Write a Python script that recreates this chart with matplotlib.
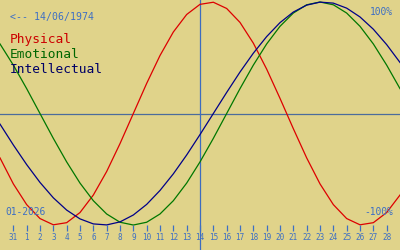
import matplotlib
matplotlib.use("Agg")
import matplotlib.pyplot as plt

# day of month (0 = 31 Dec) (-1..1)
days = list(range(-1, 30))
physical = [-0.398, -0.631, -0.817, -0.942, -0.998, -0.979, -0.888, -0.731, -0.520, -0.270,
            0.0, 0.270, 0.520, 0.731, 0.888, 0.979, 0.998, 0.942, 0.817, 0.631,
            0.398, 0.136, -0.136, -0.398, -0.631, -0.817, -0.942, -0.998, -0.979, -0.888, -0.731]
emotional = [0.624, 0.434, 0.223, 0.0, -0.223, -0.434, -0.624, -0.782, -0.901, -0.975,
             -1.0, -0.975, -0.901, -0.782, -0.624, -0.434, -0.223, 0.0, 0.223, 0.434,
             0.624, 0.782, 0.901, 0.975, 1.0, 0.975, 0.901, 0.782, 0.624, 0.434, 0.223]
intellectual = [-0.095, -0.282, -0.458, -0.618, -0.756, -0.866, -0.945, -0.990, -0.999, -0.972,
                -0.910, -0.815, -0.690, -0.541, -0.372, -0.189, 0.0, 0.189, 0.372, 0.541,
                0.690, 0.815, 0.910, 0.972, 0.999, 0.990, 0.945, 0.866, 0.756, 0.618, 0.458]
tick_pos = list(range(0, 29))
tick_labels = ["31"] + [str(i) for i in range(1, 29)]
today = 14

bg = "#e0d38a"
blue_txt = "#3d6fc4"
mono = "DejaVu Sans Mono"

fig = plt.figure(figsize=(4, 2.5), dpi=100, facecolor=bg)
ax = fig.add_axes([0, 0, 1, 1])
ax.set_facecolor(bg)
ax.set_xlim(-1, 29)
ax.set_ylim(-1.224, 1.018)
ax.axis("off")

ax.axhline(0, color="#4b6c9c", lw=0.9)
ax.axvline(today, color="#3c6cc0", lw=0.9)

ax.plot(days, physical, color="#dd0000", lw=0.9)
ax.plot(days, emotional, color="#007700", lw=0.9)
ax.plot(days, intellectual, color="#000088", lw=0.9)

# day ticks along the bottom
tr = ax.get_xaxis_transform()
ax.vlines(tick_pos, 0.076, 0.1, transform=tr, color=blue_txt, lw=0.9)
for p, lab in zip(tick_pos, tick_labels):
    ax.text(p, 0.048, lab, transform=tr, ha="center", va="center",
            fontsize=5.5, family=mono, color=blue_txt)

def px(x, y):
    return x / 400, 1 - y / 250

fig.text(*px(10, 17), "<-- 14/06/1974", fontsize=7.1, family=mono,
         color=blue_txt, ha="left", va="center")
fig.text(*px(10, 43), "Physical", fontsize=9.3, family=mono, color="#cc0000", va="baseline")
fig.text(*px(10, 58), "Emotional", fontsize=9.3, family=mono, color="#006600", va="baseline")
fig.text(*px(10, 73), "Intellectual", fontsize=9.3, family=mono, color="#000066", va="baseline")
fig.text(*px(393, 12), "100%", fontsize=6.9, family=mono, color=blue_txt, ha="right", va="center")
fig.text(*px(393, 212), "-100%", fontsize=6.9, family=mono, color=blue_txt, ha="right", va="center")
fig.text(*px(5, 212), "01-2026", fontsize=6.9, family=mono, color=blue_txt, ha="left", va="center")

fig.savefig("out.png", dpi=100, facecolor=bg)
